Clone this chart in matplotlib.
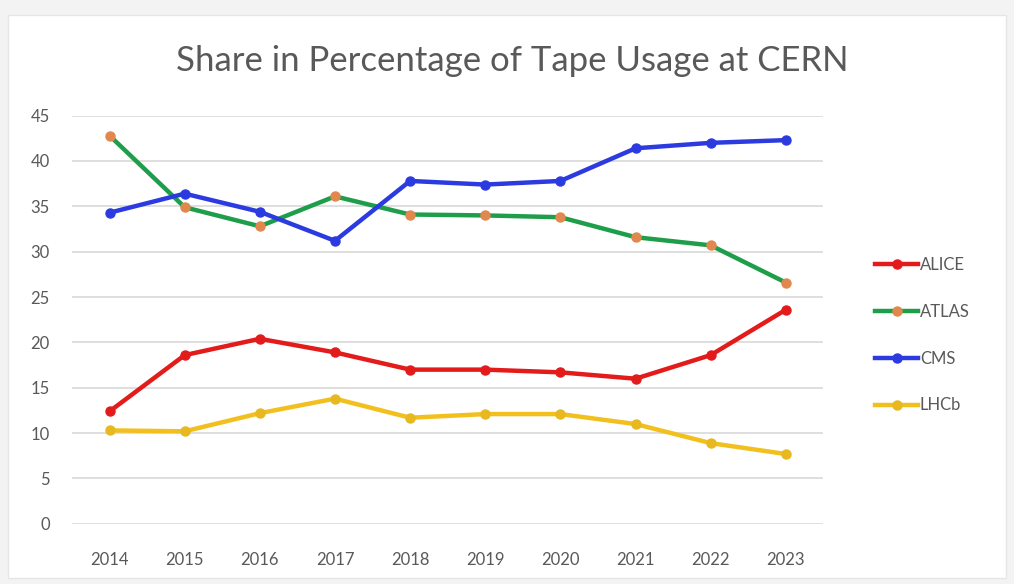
import matplotlib.pyplot as plt
from matplotlib.patches import Rectangle

# data
years = ['2014', '2015', '2016', '2017', '2018', '2019', '2020', '2021', '2022', '2023']
alice = [12.4, 18.6, 20.4, 18.9, 17.0, 17.0, 16.7, 16.0, 18.6, 23.6]
atlas = [42.8, 34.9, 32.8, 36.1, 34.1, 34.0, 33.8, 31.6, 30.7, 26.6]
cms = [34.3, 36.4, 34.4, 31.2, 37.8, 37.4, 37.8, 41.4, 42.0, 42.3]
lhcb = [10.3, 10.2, 12.2, 13.8, 11.7, 12.1, 12.1, 11.0, 8.9, 7.7]
y_ticks = [0, 5, 10, 15, 20, 25, 30, 35, 40, 45]

plt.rcParams['font.family'] = ['Lato', 'DejaVu Sans']

fig = plt.figure(figsize=(10.14, 5.84), dpi=100)
fig.patch.set_facecolor('#f3f3f3')
fig.add_artist(Rectangle((0.008, 0.01), 0.984, 0.965, transform=fig.transFigure,
                         facecolor='white', edgecolor='#e6e6e6', lw=1, zorder=0))

ax = fig.add_axes([0.071, 0.103, 0.741, 0.699])
ax.set_facecolor('white')
x = list(range(len(years)))

ax.plot(x, alice, color='#e31b1b', lw=3.2, marker='o', ms=6.5, mfc='#e31b1b', mec='#e31b1b', label='ALICE')
ax.plot(x, atlas, color='#1e9e4a', lw=3.2, marker='o', ms=6.5, mfc='#e0884e', mec='#e0884e', label='ATLAS')
ax.plot(x, cms, color='#2b3be0', lw=3.2, marker='o', ms=6.5, mfc='#2b3be0', mec='#2b3be0', label='CMS')
ax.plot(x, lhcb, color='#f2c01e', lw=3.2, marker='o', ms=6.5, mfc='#e8b820', mec='#e8b820', label='LHCb')

ax.set_xlim(-0.5, len(years) - 0.5)
ax.set_ylim(0, 45)
ax.set_xticks(x)
ax.set_xticklabels(years)
ax.set_yticks(y_ticks)
ax.grid(axis='y', color='#d9d9d9', lw=1.2)
ax.set_axisbelow(True)
for s in ax.spines.values():
    s.set_visible(False)
ax.tick_params(length=0, colors='#595959', labelsize=12)
ax.tick_params(axis='x', pad=20)
ax.tick_params(axis='y', pad=16)

fig.text(0.505, 0.895, 'Share in Percentage of Tape Usage at CERN', ha='center', va='center',
         fontsize=25, color='#595959')

fig.legend(loc='center left', bbox_to_anchor=(0.848, 0.426), frameon=False, fontsize=12,
           labelcolor='#595959', handlelength=2.6, handletextpad=0.1, labelspacing=1.85)

fig.savefig('out.png', dpi=100, facecolor=fig.get_facecolor())
